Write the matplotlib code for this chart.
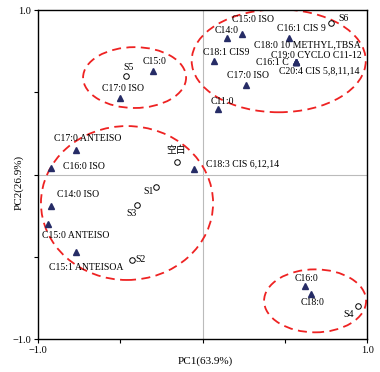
import matplotlib
matplotlib.use("Agg")
import matplotlib.pyplot as plt
from matplotlib.patches import Ellipse

# fatty acid loadings (triangles)
fa_names = ["C15:0", "C17:0 ISO", "C17:0 ANTEISO", "C16:0 ISO", "C14:0", "C15:0 ISO",
            "C16:1 CIS 9", "C18:1 CIS9", "C18:0 10 METHYL,TBSA", "C19:0 CYCLO C11-12",
            "C16:1 C", "C20:4 CIS 5,8,11,14", "C17:0 ISO ", "C11:0", "C18:3 CIS 6,12,14",
            "C14:0 ISO", "C15:0 ANTEISO", "C15:1 ANTEISOA", "C16:0", "C18:0"]
fa_x = [-0.30, -0.50, -0.77, -0.92, 0.151, 0.242, 0.526, 0.07, 0.568, 0.568,
        0.568, 0.568, 0.264, 0.096, -0.052, -0.921, -0.941, -0.771, 0.625, 0.66]
fa_y = [0.63, 0.465, 0.15, 0.04, 0.828, 0.858, 0.832, 0.69, 0.684, 0.684,
        0.684, 0.684, 0.544, 0.398, 0.033, -0.19, -0.30, -0.471, -0.676, -0.725]

# sample scores (open circles)
smp_names = ["S5", "空白", "S6", "S1", "S3", "S2", "S4"]
smp_x = [-0.465, -0.155, 0.779, -0.283, -0.40, -0.43, 0.947]
smp_y = [0.60, 0.076, 0.923, -0.078, -0.187, -0.52, -0.80]

# label offsets in pixels (left edge, vertical centre)
fa_off = [(-11, 9), (-18, 10), (-22, 11), (12, 2), (-13, 8), (-10, 14),
          (-12, 9), (-11, 9), (-42, 17), (-25, 7), (-40, 0), (-17, -9),
          (-19, 10), (-8, 8), (12, 5), (6, 11), (-6, -12), (-27, -15), (-11, 7), (-11, -9)]
smp_off = [(-3, 8), (-11, 12), (8, 4), (-13, -4), (-10, -8), (4, 1), (-15, -8)]

# group ellipses: centre x, centre y, width, height
ell_cx = [-0.413, 0.463, -0.459, 0.684]
ell_cy = [0.59, 0.692, -0.173, -0.768]
ell_w = [0.626, 1.058, 1.046, 0.62]
ell_h = [0.37, 0.626, 0.936, 0.383]

plt.rcParams['font.family'] = ['Liberation Serif', 'Noto Sans CJK SC']

fig = plt.figure(figsize=(3.8, 3.72), dpi=100)
ax = fig.add_axes([0.1, 0.0887, 0.866, 0.884])

ax.axhline(0, color="#bbbbbb", lw=0.8, zorder=0)
ax.axvline(0, color="#bbbbbb", lw=0.8, zorder=0)

ax.plot(fa_x, fa_y, linestyle="none", marker="^", markersize=5,
        color="#262c66", zorder=3)
ax.plot(smp_x, smp_y, linestyle="none", marker="o", markersize=4,
        markerfacecolor="white", markeredgecolor="black", markeredgewidth=0.7, zorder=3)

for name, x, y, off in zip(fa_names, fa_x, fa_y, fa_off):
    ax.annotate(name.strip(), (x, y), xytext=off, textcoords="offset pixels",
                ha="left", va="center", fontsize=7, zorder=4)
for name, x, y, off in zip(smp_names, smp_x, smp_y, smp_off):
    ax.annotate(name, (x, y), xytext=off, textcoords="offset pixels",
                ha="left", va="center", fontsize=7, zorder=4)

for cx, cy, w, h in zip(ell_cx, ell_cy, ell_w, ell_h):
    ax.add_patch(Ellipse((cx, cy), w, h, fill=False, edgecolor="#ee2222",
                         lw=1.3, linestyle=(0, (5, 3)), zorder=2))

ax.set_xlim(-1, 1)
ax.set_ylim(-1, 1)
ax.set_xticks([-1, -0.5, 0, 0.5, 1])
ax.set_yticks([-1, -0.5, 0, 0.5, 1])
ax.set_xticklabels(["\u22121.0", "", "", "", "1.0"])
ax.set_yticklabels(["\u22121.0", "", "", "", "1.0"])
ax.tick_params(direction="out", length=3, width=0.8, labelsize=7.5, pad=2)
for s in ax.spines.values():
    s.set_linewidth(1.0)

ax.set_xlabel("PC1(63.9%)", fontsize=8)
ax.set_ylabel("PC2(26.9%)", fontsize=8)
ax.xaxis.set_label_coords(0.508, -0.052)
ax.yaxis.set_label_coords(-0.045, 0.477)

fig.savefig("out.png", dpi=100)
